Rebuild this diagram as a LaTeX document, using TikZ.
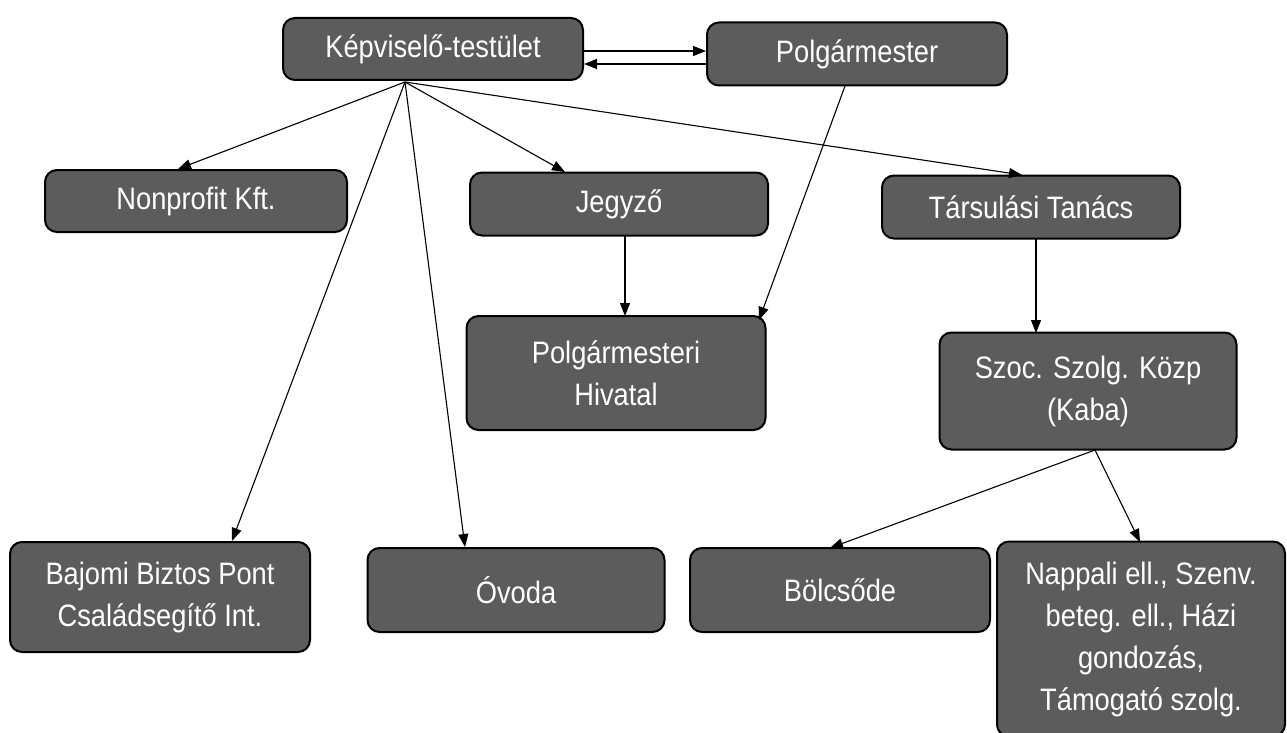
\documentclass[tikz,border=0pt]{standalone}
\usepackage{fontspec}
\setmainfont[FakeStretch=0.88]{Liberation Sans}
\usetikzlibrary{arrows.meta}
\definecolor{boxgray}{HTML}{5C5C5C}
\tikzset{
  box/.style={draw=black, line width=2pt, fill=boxgray, rounded corners=12pt, text=white, align=center, font=\fontsize{31}{42}\selectfont, inner sep=0pt},
  conn/.style={draw=black, line width=1.1pt, -{Triangle[length=13pt,width=10pt]}}
}
\begin{document}
\begin{tikzpicture}[x=1pt,y=-1pt]
\useasboundingbox (0,0) rectangle (1287,733);
\node[box, minimum width=300pt, minimum height=62pt] (kt) at (433,49) {Képviselő-testület};
\node[box, minimum width=300pt, minimum height=63pt] (pm) at (857,54) {Polgármester};
\node[box, minimum width=302pt, minimum height=62pt] (nk) at (196,201) {Nonprofit Kft.};
\node[box, minimum width=298pt, minimum height=63pt] (jg) at (619,204) {Jegyző};
\node[box, minimum width=298pt, minimum height=63pt] (tt) at (1031,207) {Társulási Tanács};
\node[box, minimum width=299pt, minimum height=114pt] (ph) at (616,373) {Polgármesteri\\Hivatal};
\node[box, minimum width=297pt, minimum height=117pt] (sz) at (1088,391) {Szoc. Szolg. Közp\\(Kaba)};
\node[box, minimum width=300pt, minimum height=110pt] (bb) at (160,597) {Bajomi Biztos Pont\\Családsegítő Int.};
\node[box, minimum width=297pt, minimum height=84pt] (ov) at (516,590) {Óvoda};
\node[box, minimum width=300pt, minimum height=84pt] (bo) at (840,590) {Bölcsőde};
\node[box, minimum width=288pt, minimum height=195pt] (na) at (1141,639) {Nappali ell., Szenv.\\beteg. ell., Házi\\gondozás,\\Támogató szolg.};
\coordinate (ktb) at (405,82);
\draw[conn] ([yshift=-2pt]kt.east) -- ([yshift=-2pt]kt.east -| pm.west);
\draw[conn] ([yshift=-10pt]pm.west) -- ([yshift=-10pt]pm.west -| kt.east);
\draw[conn] (ktb) -- (178,169);
\draw[conn] (ktb) -- (232,541);
\draw[conn] (ktb) -- (465,547);
\draw[conn] (ktb) -- (565,172);
\draw[conn] (ktb) -- (1022,175);
\draw[conn] (845,86) -- (759,320);
\draw[conn] (625,236) -- (625,316);
\draw[conn] (1036,239) -- (1036,333);
\draw[conn] (1095,450) -- (830,548);
\draw[conn] (1095,450) -- (1140,542);
\end{tikzpicture}
\end{document}
